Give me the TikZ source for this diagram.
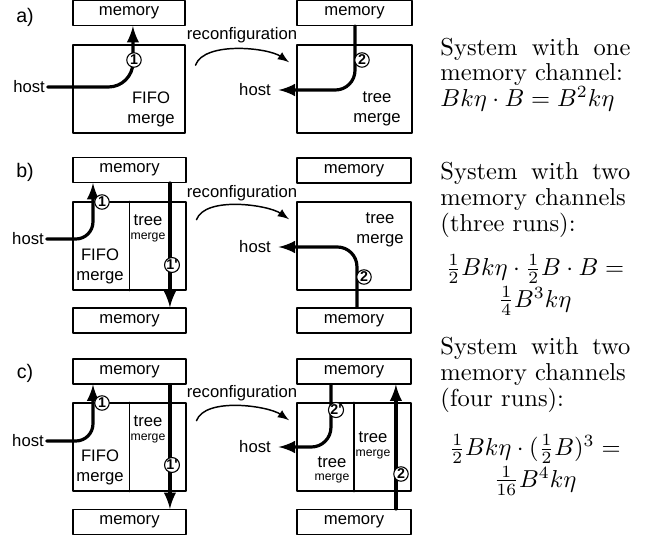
\documentclass[tikz,border=0pt]{standalone}
\usepackage{fontspec}
\newfontfamily\hv{Liberation Sans}
\usetikzlibrary{calc}

\tikzset{
  box/.style={draw, line width=0.55pt, inner sep=0pt},
  mem/.style={box, font=\hv\fontsize{6.8}{8.2}\selectfont, minimum width=#1, minimum height=10.1pt},
  mrg/.style={box, minimum width=#1, minimum height=35.9pt},
  flow/.style={line width=1.3pt, ->},
  recon/.style={line width=0.6pt, ->, looseness=0.7},
  num/.style={circle, draw, line width=0.45pt, fill=white, inner sep=0pt, minimum size=5.9pt,
    font=\hv\bfseries\fontsize{5.8}{5.8}\selectfont},
  lbl/.style={font=\hv\fontsize{6.8}{8.2}\selectfont, inner sep=1pt, align=center},
  sublbl/.style={font=\hv\fontsize{5}{6}\selectfont, inner sep=0pt},
  part/.style={font=\hv\fontsize{8}{9}\selectfont, inner sep=0pt},
  note/.style={anchor=base west, inner sep=0pt, text width=77.5pt, align=justify,
    font=\fontsize{10}{10.5}\selectfont},
  eq/.style={anchor=base, inner sep=0pt, align=center, font=\fontsize{10}{10.5}\selectfont},
}

\begin{document}
\begin{tikzpicture}[x=0.408pt, y=-0.408pt, line cap=round, line join=round, >=latex]
  \useasboundingbox (0,0) rectangle (660,537);

  % a) one memory channel
  \node[part] (partA) at (25,17) {a)};
  \node[mem=45.7pt] (memAl) at (129,13) {memory};
  \node[mrg=45.7pt] (mrgAl) at (129,89) {};
  \node[lbl] (hostAl) at (29,87) {host};
  \node[lbl] (fifoA) at (151,109) {FIFO\\merge};
  \node[mem=46.9pt] (memAr) at (354.5,13) {memory};
  \node[mrg=46.9pt] (mrgAr) at (354.5,89) {};
  \node[lbl] (hostAr) at (255,90) {host};
  \node[lbl] (treeA) at (377,109) {tree\\merge};
  \node[lbl] (rcA) at (242,35) {reconfiguration};
  \draw[flow, rounded corners=10pt] (hostAl.east) -| ([xshift=1.6pt]memAl.south);
  \draw[flow, rounded corners=8pt, shorten >=2pt] ([xshift=0.2pt]memAr.south) |- (hostAr.east);
  \draw[recon] ([shift={(4pt,-8.5pt)}]mrgAl.north east) to[out=70,in=145]
    ([shift={(-3pt,-7.3pt)}]mrgAr.north west);
  \node[num] (cA1) at (134,60) {1};
  \node[num] (cA2) at (362,60) {2};
  \node[note] (noteA) at (440,55) {System with one\linebreak memory channel:\\
    $Bk\eta\cdot B = B^2k\eta$};

  % b) two channels, three runs
  \node[part] (partB) at (25,172) {b)};
  \node[mem=46.1pt] (memBlt) at (129.5,170) {memory};
  \node[mrg=46.1pt] (mrgBl) at (129.5,246) {};
  \node[mem=46.1pt] (memBlb) at (129.5,320.5) {memory};
  \draw[box] (mrgBl.north) -- (mrgBl.south);
  \node[lbl] (hostBl) at (28,239) {host};
  \node[lbl] (fifoB) at (100,266) {FIFO\\merge};
  \node[lbl] (treeB) at (148,220) {tree};
  \node[sublbl] (subB) at (148,237) {merge};
  \node[mem=46.5pt] (memBrt) at (354,170.5) {memory};
  \node[mrg=46.5pt] (mrgBr) at (354,246) {};
  \node[mem=46.5pt] (memBrb) at (354,320.5) {memory};
  \node[lbl] (hostBr) at (255,247) {host};
  \node[lbl] (treeBr) at (380,230) {tree\\merge};
  \node[lbl] (rcB) at (242,193) {reconfiguration};
  \draw[flow, rounded corners=7pt] (hostBl.east) -| ([xshift=-14.9pt]memBlt.south);
  \draw[flow] ([xshift=16.5pt]memBlt.south) -- ([xshift=16.5pt]memBlb.north);
  \draw[flow, rounded corners=8pt, shorten >=2pt] ([xshift=1.2pt]memBrb.north) |- (hostBr.east);
  \draw[recon] ([shift={(4pt,-7.5pt)}]mrgBl.north east) to[out=70,in=145]
    ([shift={(-3pt,-7.3pt)}]mrgBr.north west);
  \node[num] (cB1) at (102,202) {1};
  \node[num] (cB1p) at (172,265) {1'};
  \node[num] (cB2) at (364,277) {2};
  \node[note] (noteB) at (440,180) {System with two\linebreak memory channels\\
    (three runs):};
  \node[eq] (eqB) at (535,307) {$\frac{1}{2}Bk\eta\cdot\frac{1}{2}B\cdot B =$\\
    $\frac{1}{4}B^3k\eta$};

  % c) two channels, four runs
  \node[part] (partC) at (25,373) {c)};
  \node[mem=46.1pt] (memClt) at (129.5,371.5) {memory};
  \node[mrg=46.1pt] (mrgCl) at (129.5,447) {};
  \node[mem=46.1pt] (memClb) at (129.5,522) {memory};
  \draw[box] (mrgCl.north) -- (mrgCl.south);
  \node[lbl] (hostCl) at (28,441) {host};
  \node[lbl] (fifoC) at (100,467) {FIFO\\merge};
  \node[lbl] (treeC) at (148,421) {tree};
  \node[sublbl] (subC) at (148,438) {merge};
  \node[mem=46.5pt] (memCrt) at (354,371.5) {memory};
  \node[mrg=46.5pt] (mrgCr) at (354,447) {};
  \node[mem=46.5pt] (memCrb) at (354,522) {memory};
  \draw[box] (mrgCr.north) -- (mrgCr.south);
  \node[lbl] (hostCr) at (255,447) {host};
  \node[lbl] (treeCl) at (332,462) {tree};
  \node[sublbl] (subCl) at (332,478) {merge};
  \node[lbl] (treeCr) at (373,437) {tree};
  \node[sublbl] (subCr) at (373,454) {merge};
  \node[lbl] (rcC) at (242,393) {reconfiguration};
  \draw[flow, rounded corners=7pt] (hostCl.east) -| ([xshift=-14.9pt]memClt.south);
  \draw[flow] ([xshift=16.5pt]memClt.south) -- ([xshift=16.5pt]memClb.north);
  \draw[flow, rounded corners=8pt, shorten >=2pt] ([xshift=-9.4pt]memCrt.south) |- (hostCr.east);
  \draw[flow] ([xshift=17.1pt]memCrb.north) -- ([xshift=17.1pt]memCrt.south);
  \draw[recon] ([shift={(4pt,-7.5pt)}]mrgCl.north east) to[out=70,in=145]
    ([shift={(-3pt,-7.3pt)}]mrgCr.north west);
  \node[num] (cC1) at (102,403) {1};
  \node[num] (cC1p) at (172,465) {1'};
  \node[num] (cC2p) at (336,410) {2'};
  \node[num] (cC2) at (401,474) {2};
  \node[note] (noteC) at (440,355) {System with two\linebreak memory channels\\
    (four runs):};
  \node[eq] (eqC) at (535,487) {$\frac{1}{2}Bk\eta\cdot(\frac{1}{2}B)^3 =$\\
    $\frac{1}{16}B^4k\eta$};
\end{tikzpicture}
\end{document}
